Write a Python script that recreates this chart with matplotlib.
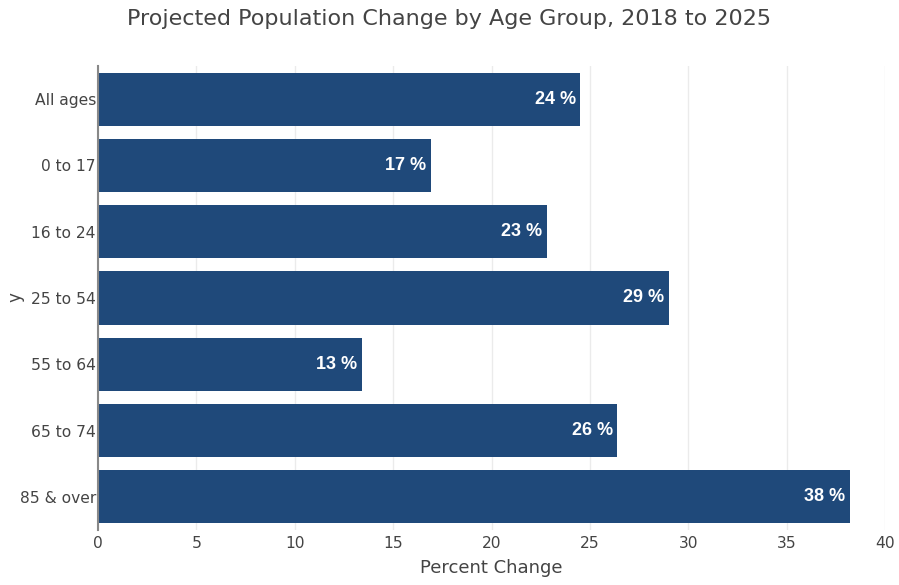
import matplotlib
matplotlib.use("Agg")
import matplotlib.pyplot as plt

categories = ["All ages", "0 to 17", "16 to 24", "25 to 54", "55 to 64", "65 to 74", "85 & over"]
values = [24.5, 16.9, 22.8, 29.0, 13.4, 26.4, 38.2]
labels = ["24 %", "17 %", "23 %", "29 %", "13 %", "26 %", "38 %"]
xticks = [0, 5, 10, 15, 20, 25, 30, 35, 40]

bar_color = "#1f497a"
text_color = "#444444"

fig = plt.figure(figsize=(8.99, 5.85), dpi=100)
ax = fig.add_axes([98/899, 1-530/585, (885-98)/899, (530-66)/585])

pos = list(range(len(categories)))
ax.barh(pos, values, height=0.8, color=bar_color, zorder=3)
ax.set_ylim(len(categories) - 0.5, -0.5)
ax.set_xlim(0, 40)
ax.set_yticks(pos)
ax.set_yticklabels(categories, fontsize=11.2, color=text_color, family="DejaVu Sans")
ax.set_xticks(xticks)
ax.set_xticklabels([str(t) for t in xticks], fontsize=11.2, color=text_color, family="DejaVu Sans")
ax.tick_params(axis="both", length=0)
ax.tick_params(axis="y", pad=1.5)
ax.tick_params(axis="x", pad=4)
ax.grid(axis="x", color="#ebebeb", linewidth=1, zorder=0)
for s in ["top", "right", "bottom"]:
    ax.spines[s].set_visible(False)
ax.spines["left"].set_color("#888888")
ax.spines["left"].set_linewidth(1.5)
ax.spines["left"].set_zorder(4)

for p, v, lab in zip(pos, values, labels):
    ax.annotate(lab, xy=(v, p), xytext=(-3, 0), textcoords="offset points",
                ha="right", va="center", color="white", fontsize=13,
                fontweight="bold", family="Liberation Sans", zorder=5)

ax.set_xlabel("Percent Change", fontsize=13, color=text_color, family="DejaVu Sans", labelpad=6)
fig.text(15/899, 1-297/585, "y", rotation=90, ha="center", va="center",
         fontsize=12, color=text_color, family="DejaVu Sans")
fig.text(449/899, 1-19/585, "Projected Population Change by Age Group, 2018 to 2025",
         ha="center", va="center", fontsize=16, color=text_color, family="DejaVu Sans")

fig.savefig("out.png", dpi=100)
